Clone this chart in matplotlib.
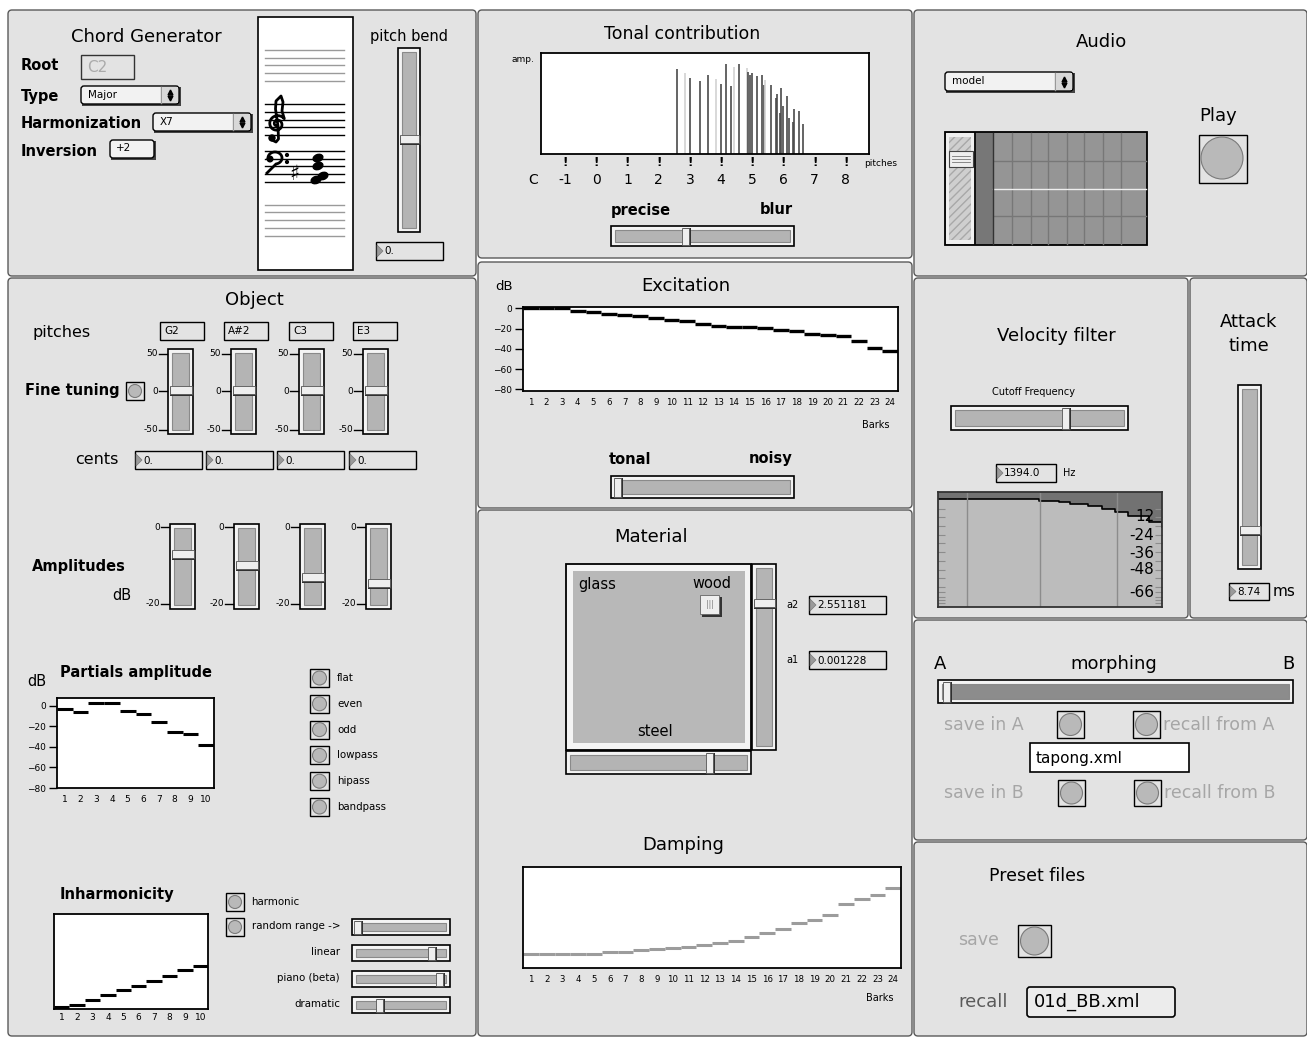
import numpy as np
import matplotlib
matplotlib.use("Agg")
import matplotlib.pyplot as plt
from matplotlib.patches import Rectangle, Circle, Ellipse, Polygon, FancyBboxPatch

W, H = 1307, 1038

# ---- values ----
octave_labels = ["C", "-1", "0", "1", "2", "3", "4", "5", "6", "7", "8"]
octave_pos = [-2.03, -1, 0, 1, 2, 3, 4, 5, 6, 7, 8]

tonal_pitch = [2.58, 2.83, 3.0, 3.32, 3.59, 3.85, 4.0, 4.17, 4.33, 4.42, 4.57,
               4.83, 4.87, 4.92, 5.0, 5.15, 5.32, 5.36, 5.41, 5.59, 5.75, 5.8,
               5.88, 5.91, 6.0, 6.12, 6.17, 6.3, 6.33, 6.49, 6.62]
tonal_amp = [0.84, 0.80, 0.75, 0.72, 0.78, 0.74, 0.69, 0.89, 0.67, 0.86, 0.89,
             0.85, 0.81, 0.78, 0.80, 0.77, 0.78, 0.68, 0.73, 0.68, 0.55, 0.59,
             0.41, 0.65, 0.48, 0.57, 0.36, 0.32, 0.45, 0.43, 0.30]
tonal_faint = [0, 1, 0, 0, 0, 1, 0, 0, 0, 1, 0,
               1, 0, 0, 0, 0, 0, 0, 1, 0, 0, 0,
               0, 0, 0, 0, 0, 0, 0, 0, 0]

barks = list(range(1, 25))
excitation_db = [0, 0, 0, -2.3, -3.9, -5.2, -6.5, -7.5, -9.8, -11.4, -12.7, -15.0,
                 -16.9, -18.2, -18.5, -19.8, -21.1, -22.8, -25.0, -26.0, -27.6,
                 -32.5, -38.7, -41.6]
damping = [0.141, 0.141, 0.141, 0.141, 0.141, 0.157, 0.157, 0.174, 0.184, 0.197,
           0.21, 0.223, 0.246, 0.272, 0.308, 0.351, 0.387, 0.449, 0.475, 0.525,
           0.63, 0.679, 0.718, 0.79]

partials = list(range(1, 11))
partials_db = [-2.9, -6.5, 2.3, 2.3, -5.5, -7.8, -15.7, -25.5, -27.1, -38.5]
inharmonicity = [0.017, 0.038, 0.09, 0.146, 0.201, 0.24, 0.295, 0.347, 0.406, 0.455]

db_ticks = [0, -20, -40, -60, -80]

pitch_names = ["G2", "A#2", "C3", "E3"]
fine_tuning_cents = [0, 0, 0, 0]
amplitudes_db = [-7.3, -10.0, -13.2, -14.8]

partial_modes = ["flat", "even", "odd", "lowpass", "hipass", "bandpass"]
inharm_modes = ["linear", "piano (beta)", "dramatic"]

filter_x = [0, 0.44, 0.45, 0.54, 0.59, 0.67, 0.73, 0.79, 0.85, 0.94, 1.0]
filter_db = [0, 0, -1.4, -1.9, -2.9, -4.8, -6.7, -9.1, -12.0, -15.8, -19.7]
filter_labels = ["12", "-24", "-36", "-48", "-66"]
filter_label_pos = [-12, -25.5, -38, -50, -66]
filter_ticks = [-6.7, -12.7, -18.7, -25.4, -31.2, -37.4, -43.4, -49.9, -55.9,
                -61.9, -65.9, -69, -71.4, -73.4]
filter_grid = [0.13, 0.455, 0.8]

PANEL = "#e3e3e3"
SLIDER = "#b4b4b4"
GREYTXT = "#a6a6a6"
BOLD = 10.5

plt.rcParams["font.family"] = ["DejaVu Sans"]

fig = plt.figure(figsize=(W / 100, H / 100), dpi=100, facecolor="white")
bg = fig.add_axes([0, 0, 1, 1])
bg.set_xlim(0, W)
bg.set_ylim(H, 0)
bg.axis("off")


def px_axes(x0, y0, x1, y1):
    return fig.add_axes([x0 / W, 1 - y1 / H, (x1 - x0) / W, (y1 - y0) / H])


def rect(x0, y0, x1, y1, fc="none", ec="black", lw=1.0, z=2, **kw):
    bg.add_patch(Rectangle((x0, y0), x1 - x0, y1 - y0, facecolor=fc,
                           edgecolor=ec, linewidth=lw, zorder=z, **kw))


def rbox(x0, y0, x1, y1, fc="#f0f0f0", ec="black", lw=1.0, r=3):
    bg.add_patch(FancyBboxPatch((x0, y0), x1 - x0, y1 - y0,
                                boxstyle="round,pad=0,rounding_size=%d" % r,
                                facecolor=fc, edgecolor=ec, linewidth=lw, zorder=2))


def label(x, y, s, size=8, weight="normal", color="black", ha="left", va="center"):
    bg.text(x, y, s, fontsize=size, fontweight=weight, color=color,
            ha=ha, va=va, zorder=6)


def panel(x0, y0, x1, y1):
    rbox(x0, y0, x1, y1, fc=PANEL, ec="#5a5a5a", lw=1.0, r=4)


def vslider(x0, y0, x1, y1, ky):
    rect(x0, y0, x1, y1, fc="#f4f4f4", ec="black", lw=1.2)
    rect(x0 + 4, y0 + 4, x1 - 4, y1 - 4, fc=SLIDER, ec="#8a8a8a", lw=0.8)
    rect(x0 + 2, ky - 4, x1 + 1, ky + 5, fc="#303030", ec="none", z=3)
    rect(x0 + 2, ky - 5, x1 - 1, ky + 3, fc="#eeeeee", ec="#555", lw=0.6, z=3)


def hslider(x0, y0, x1, y1, kx, fill=SLIDER):
    rect(x0, y0, x1, y1, fc="#f4f4f4", ec="black", lw=1.2)
    rect(x0 + 4, y0 + 4, x1 - 4, y1 - 4, fc=fill, ec="#8a8a8a", lw=0.8)
    rect(kx - 3, y0 + 2, kx + 5, y1 + 1, fc="#303030", ec="none", z=3)
    rect(kx - 4, y0 + 2, kx + 3, y1 - 1, fc="#eeeeee", ec="#555", lw=0.6, z=3)


def numbox(x0, y0, x1, y1, s, size=7.5):
    rect(x0, y0, x1, y1, fc=PANEL, ec="black", lw=1.0)
    ym = (y0 + y1) / 2
    bg.add_patch(Polygon([(x0 + 1, y0 + 3), (x0 + 7, ym), (x0 + 1, y1 - 3)],
                         closed=True, facecolor="#9a9a9a", edgecolor="#777", lw=0.5, zorder=3))
    label(x0 + 8, ym + 0.5, s, size)


def button(x0, y0, x1, y1):
    rect(x0, y0, x1, y1, fc=PANEL, ec="black", lw=1.0)
    r = (x1 - x0) / 2 - 2.5
    bg.add_patch(Circle(((x0 + x1) / 2, (y0 + y1) / 2), r, facecolor="#b9b9b9",
                        edgecolor="#7a7a7a", lw=0.8, zorder=3))


def dropdown(x0, y0, x1, y1, s):
    rect(x0 + 1, y0 + 1, x1 + 1.5, y1 + 1.5, fc="#444", ec="none")
    rbox(x0, y0, x1, y1, fc="#f2f2f2", ec="black", lw=1.0, r=3)
    bg.plot([x1 - 18, x1 - 18], [y0 + 1, y1 - 1], color="#999", lw=1, zorder=3)
    rect(x1 - 17.5, y0 + 1, x1 - 1, y1 - 1, fc="#d8d8d8", ec="none", z=3)
    xm, ym = x1 - 9, (y0 + y1) / 2
    bg.plot([xm], [ym - 3], marker="^", ms=3.5, color="black", zorder=4)
    bg.plot([xm], [ym + 3], marker="v", ms=3.5, color="black", zorder=4)
    label(x0 + 7, ym, s, 7.5)


def scale_marks(xr, ys, texts, size=6.5):
    for y, t in zip(ys, texts):
        label(xr - 9, y, t, size, ha="right")
        bg.plot([xr - 8, xr], [y, y], color="black", lw=1, zorder=4)


def chart_style(ax):
    ax.set_facecolor("white")
    for s in ax.spines.values():
        s.set_linewidth(1.3)
        s.set_color("black")
    ax.tick_params(labelsize=6.5, length=6, width=1, pad=2)


def treble_clef(cx, cy):
    # no installed font has the clef glyph, so it is drawn as a line
    t = np.linspace(0, 3.3 * np.pi, 80)
    r = 1.5 + 7.5 * t / t[-1]
    xs = list(cx + r * np.cos(t + np.pi / 2))
    ys = list(cy + r * np.sin(t + np.pi / 2))
    xs += [cx + 5, cx + 6, cx + 4, cx - 1, cx - 1.5, cx + 1, cx + 1.5, cx - 1, cx - 5]
    ys += [cy - 13, cy - 22, cy - 28, cy - 23, cy - 15, cy + 2, cy + 15, cy + 18, cy + 16]
    bg.plot(xs, ys, color="black", lw=2.0, zorder=4, solid_capstyle="round")
    bg.add_patch(Circle((cx - 5, cy + 14), 3.0, color="black", zorder=4))


def bass_clef(cx, cy):
    th = np.linspace(np.pi, -0.45 * np.pi, 50)
    xs = list(cx + 7 * np.cos(th))
    ys = list(cy - 6 * np.sin(th))
    xs += [cx - 8]
    ys += [cy + 15]
    bg.plot(xs, ys, color="black", lw=2.0, zorder=4)
    bg.add_patch(Circle((cx - 5, cy + 1), 2.8, color="black", zorder=4))
    bg.add_patch(Circle((cx + 12, cy - 3), 1.4, color="black", zorder=4))
    bg.add_patch(Circle((cx + 12, cy + 4), 1.4, color="black", zorder=4))


# ================= Chord Generator =================
panel(8, 10, 476, 276)
label(146, 37, "Chord Generator", 13, ha="center")
label(21, 66, "Root", BOLD, "bold")
rect(81, 55, 134, 79, fc=PANEL, ec="#333")
label(87, 67, "C2", 11, color="#aaaaaa")
label(21, 96, "Type", BOLD, "bold")
dropdown(81, 86, 179, 104, "Major")
label(21, 123, "Harmonization", BOLD, "bold")
dropdown(153, 113, 251, 131, "X7")
label(21, 151, "Inversion", BOLD, "bold")
rect(111, 141, 155.5, 159.5, fc="#444", ec="none")
rbox(110, 140, 154, 158, fc="#f2f2f2", ec="black", r=3)
label(116, 148, "+2", 7.5)

rect(258, 17, 353, 270, fc="white", ec="black", lw=1.2)
for group, col in [((50.3, 57.7, 65.3, 73, 80.7), "#9a9a9a"),
                   ((104.3, 112, 119.7, 127.3, 135), "black"),
                   ((151, 158.7, 166.3, 174, 182), "black"),
                   ((204.7, 212.3, 220, 227.7, 235.7), "#9a9a9a")]:
    for y in group:
        bg.plot([265, 344], [y, y], color=col, lw=1.0, zorder=3)
treble_clef(277, 124)
bass_clef(275, 158)
label(294, 174, "\u266F", 15, ha="center")
for cx, cy in [(318, 158), (318, 166), (323, 176), (316, 180)]:
    bg.add_patch(Ellipse((cx, cy), 10, 7, angle=-20, color="black", zorder=4))

label(409, 36, "pitch bend", 10.5, ha="center")
vslider(398, 48, 420, 232, 140)
numbox(376, 242, 443, 260, "0.")

# ================= Object =================
panel(8, 278, 476, 1036)
label(254, 300, "Object", 13, ha="center")
label(32, 333, "pitches", 11.5)
ft_x = [168, 231, 299, 363]
box_x = [160, 224, 289, 353]
for bx, name in zip(box_x, pitch_names):
    rect(bx, 322, bx + 44, 340, fc=PANEL, ec="black")
    label(bx + 4, 331, name, 7.5)
for sx, c in zip(ft_x, fine_tuning_cents):
    ky = 391 - c / 50 * 38
    vslider(sx, 349, sx + 25, 434, ky)
    scale_marks(sx - 1, [354, 391, 430], ["50", "0", "-50"])
label(25, 391, "Fine tuning", BOLD, "bold")
button(126, 382, 144, 400)
label(75, 460, "cents", 11.5)
for bx, c in zip([135, 206, 277, 349], fine_tuning_cents):
    numbox(bx, 451, bx + 67, 469, "%g." % c)

amp_x = [170, 234, 300, 366]
for sx, a in zip(amp_x, amplitudes_db):
    ky = 527 - a / 20 * 77
    vslider(sx, 524, sx + 25, 609, ky)
    scale_marks(sx - 1, [527, 604], ["0", "-20"])
label(32, 566, "Amplitudes", BOLD, "bold")
label(112, 596, "dB", 10.5)

label(60, 672, "Partials amplitude", BOLD, "bold")
label(27, 681, "dB", 10.5)
for i, m in enumerate(partial_modes):
    yc = 678 + i * 25.8
    button(310, yc - 9, 329, yc + 9)
    label(337, yc, m, 7.4)

ax_p = px_axes(57, 698, 214, 788)
chart_style(ax_p)
ax_p.hlines(partials_db, [p - 1 for p in partials], partials, color="black", lw=2.2)
ax_p.set_xlim(0, 10)
ax_p.set_ylim(-80, 7.5)
ax_p.set_yticks(db_ticks)
ax_p.set_xticks([p - 0.5 for p in partials])
ax_p.set_xticklabels([str(p) for p in partials])
ax_p.tick_params(axis="x", length=0, pad=5)

label(60, 894, "Inharmonicity", BOLD, "bold")
button(226, 893, 244, 911)
label(251, 902, "harmonic", 7.4)
button(226, 918, 244, 936)
label(252, 926, "random range ->", 7.4)
hslider(352, 919, 450, 935, 358)
for i, (m, kx) in enumerate(zip(inharm_modes, [432, 440, 380])):
    y0 = 945 + i * 26
    label(340, y0 + 7, m, 7.4, ha="right")
    hslider(352, y0, 450, y0 + 16, kx)

ax_i = px_axes(54, 914, 208, 1009)
chart_style(ax_i)
ax_i.hlines(inharmonicity, [p - 1 for p in partials], partials, color="black", lw=2.2)
ax_i.set_xlim(0, 10)
ax_i.set_ylim(0, 1)
ax_i.set_yticks([])
ax_i.set_xticks([p - 0.5 for p in partials])
ax_i.set_xticklabels([str(p) for p in partials])
ax_i.tick_params(axis="x", length=0, pad=3)

# ================= Tonal contribution =================
panel(478, 10, 912, 258)
label(682, 34, "Tonal contribution", 12.5, ha="center")
label(512, 60, "amp.", 6.5)
ax_t = px_axes(541, 53, 869, 154)
chart_style(ax_t)
for x, a, f in zip(tonal_pitch, tonal_amp, tonal_faint):
    ax_t.vlines(x, 0, a, color="#d2d2d2" if f else "#4a4a4a", lw=1.2)
ax_t.set_xlim(-1.77, 8.74)
ax_t.set_ylim(0, 1)
ax_t.set_xticks([])
ax_t.set_yticks([])
for x, t in zip(octave_pos, octave_labels):
    if t != "C":
        ax_t.text(x, -0.08, "!", transform=ax_t.get_xaxis_transform(),
                  ha="center", va="center", fontsize=8.5, fontweight="bold")
    ax_t.text(x, -0.26, t, transform=ax_t.get_xaxis_transform(),
              ha="center", va="center", fontsize=10)
label(864, 163, "pitches", 6.5)
label(611, 210, "precise", BOLD, "bold")
label(793, 210, "blur", BOLD, "bold", ha="right")
hslider(611, 226, 794, 246, 686)

# ================= Excitation =================
panel(478, 262, 912, 508)
label(495, 287, "dB", 9.5)
label(686, 286, "Excitation", 13, ha="center")
ax_e = px_axes(523, 307, 898, 391)
chart_style(ax_e)
ax_e.hlines(excitation_db, [b - 1 for b in barks], barks, color="black", lw=2.4)
ax_e.set_xlim(0, 24)
ax_e.set_ylim(-81.6, 1.4)
ax_e.set_yticks(db_ticks)
ax_e.set_xticks([b - 0.5 for b in barks])
ax_e.set_xticklabels([str(b) for b in barks])
ax_e.tick_params(axis="x", length=0, pad=5, labelsize=6.2)
label(876, 425, "Barks", 7, ha="center")
label(609, 459, "tonal", BOLD, "bold")
label(793, 459, "noisy", BOLD, "bold", ha="right")
hslider(611, 476, 794, 498, 618)

# ================= Material / Damping =================
panel(478, 510, 912, 1036)
label(651, 537, "Material", 13, ha="center")
rect(566, 564, 751, 750, fc="#f4f4f4", ec="black", lw=1.3)
rect(573, 571, 745, 743, fc="#b8b8b8", ec="none")
label(578, 584, "glass", 10.5)
label(731, 584, "wood", 10.5, ha="right")
label(655, 731, "steel", 10.5, ha="center")
rect(702, 597, 722, 617, fc="#333", ec="none", z=3)
rect(700, 595, 719, 614, fc="#eeeeee", ec="#666", lw=0.6, z=3)
label(709.5, 604.5, "|||", 5.5, color="#777", ha="center")
vslider(752, 564, 776, 750, 604)
hslider(566, 751, 751, 774, 710)
label(786, 605, "a2", 7)
numbox(809, 596, 886, 614, "2.551181")
label(786, 660, "a1", 7)
numbox(809, 651, 886, 669, "0.001228")

label(683, 845, "Damping", 13, ha="center")
ax_d = px_axes(523, 867, 901, 968)
chart_style(ax_d)
ax_d.hlines(damping, [b - 1 for b in barks], barks, color="#9c9c9c", lw=2.2)
ax_d.set_xlim(0, 24)
ax_d.set_ylim(0, 1)
ax_d.set_yticks([])
ax_d.set_xticks([b - 0.5 for b in barks])
ax_d.set_xticklabels([str(b) for b in barks])
ax_d.tick_params(axis="x", length=0, pad=5, labelsize=6.2)
label(880, 998, "Barks", 7, ha="center")

# ================= Audio =================
panel(914, 10, 1307, 276)
label(1101, 42, "Audio", 13, ha="center")
dropdown(945, 72, 1073, 91, "model")
label(1218, 116, "Play", 13, ha="center")
rect(1199, 135, 1247, 183, fc=PANEL, ec="black", lw=1.0)
bg.add_patch(Circle((1222, 158), 21, facecolor="#b9b9b9", edgecolor="#7a7a7a", lw=0.8, zorder=3))
rect(945, 132, 1147, 245, fc="#959595", ec="black", lw=1.3)
rect(946, 133, 974, 244, fc="#f0f0f0", ec="none", z=3)
rect(949, 137, 971, 240, fc="#cfcfcf", ec="#a8a8a8", lw=0, z=3, hatch="////")
rect(949, 151, 973, 167, fc="#eeeeee", ec="#444", lw=0.8, z=4)
for yy in (156, 159, 162):
    bg.plot([952, 970], [yy, yy], color="#777", lw=0.6, zorder=5)
rect(975, 133, 992.5, 244, fc="#777777", ec="none", z=3)
bg.plot([975, 975], [133, 244], color="black", lw=1.2, zorder=4)
bg.plot([992.5, 992.5], [133, 244], color="#333", lw=1.0, zorder=4)
for xx in (1012.3, 1030.7, 1048.3, 1066.7, 1084.3, 1102.7, 1120.7):
    bg.plot([xx, xx], [133, 244], color="#777", lw=1.0, zorder=3)
for yy in (161, 215.7):
    bg.plot([993, 1146], [yy, yy], color="#777", lw=1.0, zorder=3)
bg.plot([993, 1146], [189, 189], color="#eeeeee", lw=1.0, zorder=3)

# ================= Velocity filter =================
panel(914, 278, 1188, 618)
label(1056, 336, "Velocity filter", 13, ha="center")
label(1034, 392, "Cutoff Frequency", 7, ha="center")
hslider(951, 406, 1128, 430, 1066)
numbox(996, 464, 1056, 482, "1394.0")
label(1063, 473, "Hz", 7)
ax_v = px_axes(938, 492, 1162, 607)
ax_v.set_facecolor("#bcbcbc")
for s in ax_v.spines.values():
    s.set_linewidth(1.3)
    s.set_color("#333")
ax_v.fill_between(filter_x, filter_db, 5.3, step="post", color="#727272", lw=0)
ax_v.step(filter_x, filter_db, where="post", color="black", lw=1.2)
for gx in filter_grid:
    ax_v.axvline(gx, color="#8c8c8c", lw=1.0)
for lab, pos in zip(filter_labels, filter_label_pos):
    ax_v.text(0.965, pos, lab, ha="right", va="center", fontsize=11)
ax_v.set_xlim(0, 1)
ax_v.set_ylim(-76.3, 5.3)
ax_v.set_xticks([])
ax_v.set_yticks(filter_ticks)
ax_v.set_yticklabels([])
ax_v.tick_params(axis="y", direction="in", length=5, color="#8c8c8c", left=True, right=True)

# ================= Attack time =================
panel(1190, 278, 1307, 618)
label(1249, 322, "Attack", 13, ha="center")
label(1249, 346, "time", 13, ha="center")
vslider(1238, 385, 1261, 569, 531)
numbox(1229, 583, 1269, 600, "8.74")
label(1273, 591, "ms", 11)

# ================= Morphing =================
panel(914, 620, 1307, 840)
label(934, 664, "A", 13)
label(1114, 664, "morphing", 13, ha="center")
label(1294, 664, "B", 13, ha="right")
hslider(938, 680, 1293, 703, 947, fill="#8c8c8c")
label(944, 725, "save in A", 12.5, color=GREYTXT)
button(1057, 711, 1084, 738)
button(1133, 711, 1160, 738)
label(1163, 725, "recall from A", 12.5, color=GREYTXT)
rect(1030, 743, 1189, 772, fc="white", ec="black", lw=1.2)
label(1036, 758, "tapong.xml", 11)
label(944, 793, "save in B", 12.5, color=GREYTXT)
button(1058, 780, 1085, 806)
button(1134, 780, 1161, 806)
label(1164, 793, "recall from B", 12.5, color=GREYTXT)

# ================= Preset files =================
panel(914, 842, 1307, 1036)
label(989, 876, "Preset files", 12.5)
label(958, 940, "save", 12.5, color=GREYTXT)
button(1018, 925, 1051, 957)
label(958, 1002, "recall", 13, color="#5a5a5a")
rbox(1027, 987, 1175, 1017, fc="#ececec", ec="black", lw=1.2, r=3)
label(1034, 1002, "01d_BB.xml", 13)

fig.savefig("out.png", dpi=100, facecolor="white")
